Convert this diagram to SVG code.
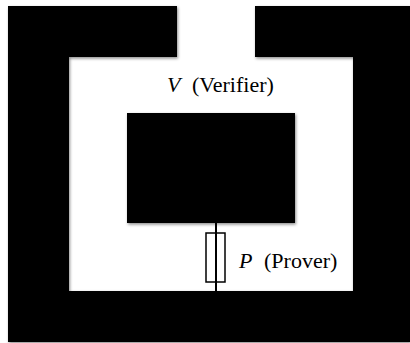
<svg xmlns="http://www.w3.org/2000/svg" width="410" height="343" viewBox="0 0 410 343">
  <defs>
    <filter id="sh" x="-10%" y="-10%" width="120%" height="120%">
      <feDropShadow dx="1" dy="1.5" stdDeviation="1.5" flood-color="#000" flood-opacity="0.45"/>
    </filter>
  </defs>
  <style>
    .blk { fill: #000; filter: url(#sh); }
    .lbl { font-size: 22px; fill: #000; }
    .it { font-style: italic; }
    .wire { stroke: #000; stroke-width: 2; fill: none; }
    .pbox { fill: #fff; stroke: #000; stroke-width: 1.5; }
  </style>
  <rect width="410" height="343" fill="#fff"/>
  <g id="frame">
    <path class="blk" d="M8,6 H177 V57 H69 V291 H353 V57 H255 V6 H410 V342 H8 Z"/>
  </g>
  <g id="verifier">
    <rect class="blk" x="127" y="113" width="168" height="110"/>
    <text class="lbl" font-family="'Liberation Serif', 'DejaVu Serif', serif" x="167" y="92"><tspan class="it">V</tspan><tspan x="192">(Verifier)</tspan></text>
  </g>
  <g id="prover">
    <rect class="pbox" x="206" y="233" width="19" height="49"/>
    <text class="lbl" font-family="'Liberation Serif', 'DejaVu Serif', serif" x="239" y="268"><tspan class="it">P</tspan><tspan x="264">(Prover)</tspan></text>
  </g>
  <g id="connectors">
    <line class="wire" x1="216" y1="223" x2="216" y2="291"/>
  </g>
</svg>
